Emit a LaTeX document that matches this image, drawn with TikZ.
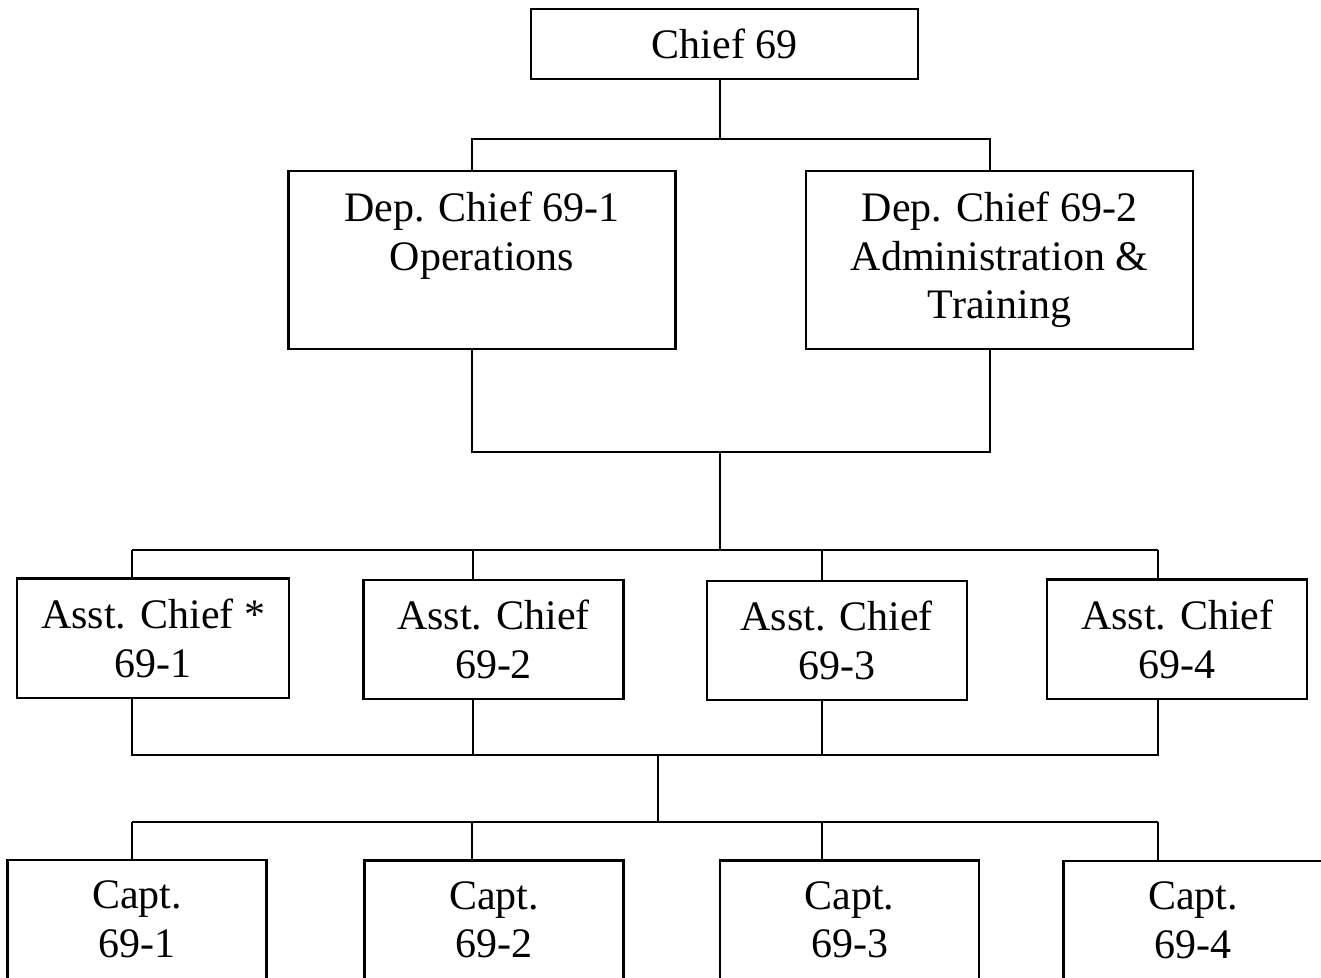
\documentclass[tikz,border=0pt]{standalone}
\usepackage{fontspec}
\setmainfont{Liberation Serif}

\begin{document}
\begin{tikzpicture}[
    x=1pt, y=-1pt,
    chiefbox/.style={rectangle, fill=white, draw=black, line width=2.2pt, inner sep=0pt,
        minimum width=387pt, minimum height=70pt, align=center,
        font=\fontsize{42}{48.5}\selectfont},
    depbox/.style={chiefbox, minimum height=178pt},
    asstbox/.style={chiefbox, minimum width=260pt, minimum height=119.5pt},
    captbox/.style={asstbox, minimum width=259pt, minimum height=119pt},
    wire/.style={line width=2pt}
]

\clip (0,0) rectangle (1321,977);

\node[chiefbox] (chief) at (724.8,44) {Chief 69};

\node[depbox] (dep1) at (482,259.8) {Dep. Chief 69-1\\Operations\\\vphantom{Tg}};
\node[depbox] (dep2) at (999.5,259.8) {Dep. Chief 69-2\\Administration \&\\Training};

\node[asstbox, minimum width=271.7pt] (asst1) at (153.2,638.3) {Asst. Chief *\\69-1};
\node[asstbox] (asst2) at (493.5,639.5) {Asst. Chief\\69-2};
\node[asstbox] (asst3) at (836.7,640.5) {Asst. Chief\\69-3};
\node[asstbox] (asst4) at (1177.3,639.3) {Asst. Chief\\69-4};

\node[captbox] (capt1) at (137,919.5) {Capt.\\69-1};
\node[captbox] (capt2) at (494,920) {Capt.\\69-2};
\node[captbox] (capt3) at (849.5,920) {Capt.\\69-3};
\node[captbox] (capt4) at (1193,920.5) {Capt.\\69-4};

% junctions
\coordinate (j0) at (720,138.7);
\coordinate (d1) at (472,138.7);
\coordinate (d2) at (990,138.7);
\coordinate (e1) at (472,452);
\coordinate (e2) at (990,452);
\coordinate (j1) at (720,452);
\coordinate (j2) at (720,550);
\coordinate (b1) at (132,550);
\coordinate (b2) at (472.5,550);
\coordinate (b3) at (822,550);
\coordinate (b4) at (1158,550);
\coordinate (c1) at (132,755);
\coordinate (c2) at (472.5,755);
\coordinate (c3) at (822,755);
\coordinate (c4) at (1158,755);
\coordinate (k1) at (658,755);
\coordinate (k2) at (658,821.7);
\coordinate (g1) at (132,821.7);
\coordinate (g2) at (472,821.7);
\coordinate (g3) at (822,821.7);
\coordinate (g4) at (1158,821.7);

\draw[wire] (chief.south -| j0)--(j0);
\draw[wire] (dep1.north -| d1)--(d1)--(d2)--(dep2.north -| d2);
\draw[wire] (dep1.south -| e1)--(e1)--(e2)--(dep2.south -| e2);
\draw[wire] (j1)--(j2);

\draw[wire] (b1)--(b4);
\draw[wire] (b1)--(b1 |- asst1.north);
\draw[wire] (b2)--(b2 |- asst2.north);
\draw[wire] (b3)--(b3 |- asst3.north);
\draw[wire] (b4)--(b4 |- asst4.north);

\draw[wire] (asst1.south -| c1)--(c1)--(c4)--(asst4.south -| c4);
\draw[wire] (asst2.south -| c2)--(c2);
\draw[wire] (asst3.south -| c3)--(c3);
\draw[wire] (k1)--(k2);

\draw[wire] (g1)--(g4);
\draw[wire] (g1)--(g1 |- capt1.north);
\draw[wire] (g2)--(g2 |- capt2.north);
\draw[wire] (g3)--(g3 |- capt3.north);
\draw[wire] (g4)--(g4 |- capt4.north);

\end{tikzpicture}
\end{document}
